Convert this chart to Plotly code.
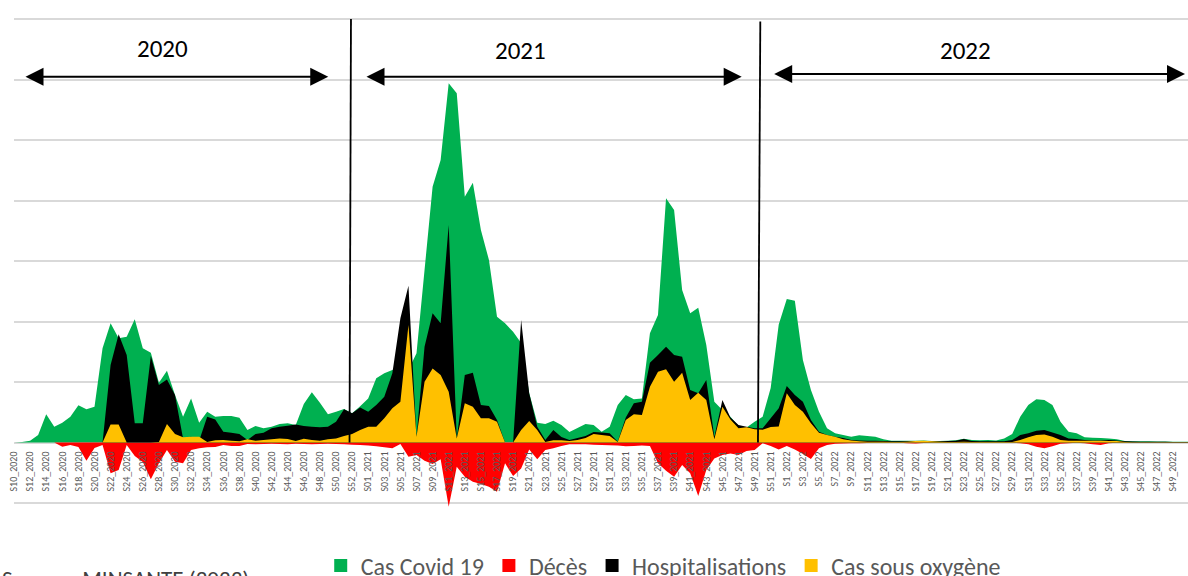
import plotly.graph_objects as go

# Epidemiological weeks (S10_2020 .. S52_2022)
weeks_2020 = [f"S{w:02d}_2020" for w in range(10, 54)]
weeks_2021 = [f"S{w:02d}_2021" for w in range(1, 53)]
weeks_2022 = [f"S{w}_2022" for w in range(1, 53)]
weeks = weeks_2020 + weeks_2021 + weeks_2022

# Weekly counts per indicator (deaths are plotted below the axis)
cas_covid = [
    0, 10, 30, 124, 466, 261, 327, 426, 615, 549, 592, 1557, 1970, 1722, 1749, 2036,
    1557, 1485, 990, 1187, 785, 426, 730, 327, 509, 426, 438, 438, 410, 207, 273, 235,
    261, 306, 317, 289, 636, 830, 658, 466, 509, 554, 483, 600,
    730, 1061, 1144, 1198, 1253, 1198, 1475, 2851, 4229, 4670, 5938, 5772, 4063, 4295,
    3513, 3017, 2080, 1970, 1832, 1645, 818, 327, 306, 360, 290, 174, 240, 306, 290,
    179, 261, 620, 785, 714, 730, 1805, 2108, 4037, 3843, 2521, 2136, 2228, 1612, 675,
    537, 426, 273, 250, 344, 426, 900, 1950,
    2372, 2344, 1364, 868, 509, 235, 152, 124, 96, 119, 107, 96, 53, 30, 30, 30, 30,
    35, 25, 25, 30, 40, 63, 41, 40, 41, 35, 69, 140, 426, 620, 714, 703, 620, 344, 179,
    152, 86, 80, 74, 69, 53, 25, 22, 20, 20, 18, 18, 15, 15, 12, 10,
]
deces = [
    0, 0, 0, 0, 0, 0, -69, -41, -74, -301, -91, -41, -509, -455, -41, -223,
    -322, -608, -344, -124, -317, -344, -124, -96, -79, -74, -41, -58, -58, -25, -30, -25,
    -20, -25, -30, -20, -25, -30, -25, -20, -25, -30, -35, -40,
    -50, -60, -79, -96, -25, -234, -207, -301, -355, -278, -1061, -400, -565, -648,
    -686, -730, -813, -344, -554, -427, -113, -278, -124, -96, -58, -30, -30, -30, -35,
    -40, -45, -50, -60, -55, -50, -58, -344, -466, -565, -372, -509, -884, -455, -262,
    -207, -179, -207, -140, -124, -13, -58, -113,
    -58, -113, -190, -270, -96, -41, -20, -15, -10, -10, -8, -5, -5, -5, -5, -10, -15,
    -8, -5, -5, -5, -5, -5, -5, -3, -3, -3, -3, -5, -10, -30, -70, -96, -60, -20, -10,
    -5, -10, -30, -40, -10, -5, -3, -3, -3, -3, -3, -3, -3, -3, -3, -3,
]
hospitalisations = [
    0, 0, 0, 0, 0, 0, 0, 0, 0, 0, 0, 0, 1281, 1789, 1446, 317,
    317, 1430, 950, 1044, 785, 69, 96, 30, 426, 383, 179, 162, 140, 41, 140, 162,
    235, 261, 278, 300, 273, 261, 251, 261, 344, 549, 483, 580,
    509, 620, 757, 1144, 2053, 2592, 96, 1584, 2136, 1970, 3595, 69, 1116, 1154,
    620, 603, 372, 0, 0, 2025, 813, 260, 41, 207, 90, 41, 74, 107, 174,
    168, 152, 13, 416, 648, 675, 1320, 1446, 1584, 1446, 1419, 868, 813, 1033, 96,
    703, 416, 289, 261, 235, 235, 400, 565,
    934, 785, 675, 372, 179, 124, 96, 74, 41, 35, 30, 30, 25, 20, 20, 20, 20,
    25, 20, 20, 25, 30, 58, 25, 20, 20, 20, 20, 41, 124, 152, 195, 207, 168, 124, 69,
    58, 41, 35, 35, 41, 35, 20, 18, 15, 15, 12, 12, 10, 10, 8, 8,
]
cas_oxygene = [
    0, 0, 0, 0, 0, 0, 0, 0, 0, 0, 0, 0, 300, 300, 0, 0,
    0, 0, 10, 306, 140, 86, 96, 96, 10, 36, 41, 30, 20, 53, 30, 41,
    53, 69, 58, 25, 63, 41, 30, 53, 69, 107, 140, 207,
    261, 261, 400, 565, 675, 1942, 96, 1005, 1226, 1116, 840, 69, 648, 592,
    400, 400, 344, 0, 0, 207, 355, 207, 10, 40, 40, 25, 41, 74, 140,
    124, 107, 10, 372, 466, 455, 922, 1170, 1210, 1005, 1154, 703, 823, 703, 53,
    592, 383, 235, 251, 218, 210, 255, 267,
    813, 620, 509, 317, 162, 124, 96, 53, 33, 20, 15, 15, 12, 10, 10, 15, 25,
    30, 20, 12, 10, 10, 15, 10, 8, 8, 8, 8, 10, 41, 86, 124, 135, 96, 41, 30,
    30, 30, 28, 28, 25, 25, 8, 5, 5, 5, 5, 5, 5, 5, 5, 5,
]

series = [
    ("Cas Covid 19", cas_covid, "#00B050"),
    ("Décès", deces, "#FF0000"),
    ("Hospitalisations", hospitalisations, "#000000"),
    ("Cas sous oxygène", cas_oxygene, "#FFC000"),
]

FONT = "Carlito, Calibri, 'Open Sans', sans-serif"

fig = go.Figure()

# Overlapping (non-stacked) filled areas
for name, vals, color in series:
    fig.add_trace(go.Scatter(
        x=weeks, y=vals, name=name, mode="none",
        fill="tozeroy", fillcolor=color, showlegend=False, hoverinfo="skip",
    ))

# Square legend keys
for name, vals, color in series:
    fig.add_trace(go.Scatter(
        x=[None], y=[None], name=name, mode="markers",
        marker=dict(symbol="square", size=13, color=color),
    ))

# Year separators
for xa, xb, ytop in [(41.86, 41.68, 7000), (92.71, 92.42, 6959)]:
    fig.add_shape(type="line", xref="x", yref="y", x0=xa, y0=ytop, x1=xb, y1=0,
                  line=dict(color="black", width=1.8), layer="above")

# Double-headed period arrows and year labels
for x0, x1, ya, label, xl, yl in [
    (1.24, 39.04, 6047, "2020", 18.5, 6521),
    (43.6, 90.4, 6047, "2021", 62.98, 6488),
    (94.25, 145.47, 6093, "2022", 118.26, 6488),
]:
    fig.add_annotation(
        x=x1, y=ya, ax=x0, ay=ya, xref="x", yref="y", axref="x", ayref="y",
        text="", showarrow=True, arrowside="end+start",
        arrowhead=2, startarrowhead=2, arrowsize=1.8, startarrowsize=1.8,
        arrowwidth=2, arrowcolor="black", standoff=0, startstandoff=0,
    )
    fig.add_annotation(
        x=xl, y=yl, xref="x", yref="y", text=label, showarrow=False,
        font=dict(family=FONT, size=25, color="black"),
    )

# Source line at the foot of the figure
fig.add_annotation(
    x=-14 / 1174, y=-0.09, xref="paper", yref="paper", xanchor="left", yanchor="top",
    text="Source : MINSANTE (2023)", showarrow=False,
    font=dict(family=FONT, size=23, color="#404040"),
)

fig.update_layout(
    width=1188, height=576,
    margin=dict(l=14, r=0, t=18, b=58, autoexpand=False),
    paper_bgcolor="white", plot_bgcolor="white",
    font=dict(family=FONT, color="#595959"),
    legend=dict(
        orientation="h", x=0.553, xanchor="center", y=-0.096, yanchor="middle",
        font=dict(family=FONT, size=24, color="#595959"),
        itemwidth=30, bgcolor="rgba(0,0,0,0)",
    ),
    xaxis=dict(
        type="category", range=[0, 145.84],
        showgrid=False, zeroline=False, showline=False, ticks="",
        tickmode="array", tickvals=weeks[::2], ticktext=weeks[::2],
        tickangle=-90, tickfont=dict(family=FONT, size=10, color="#595959"),
        ticklabelstandoff=6,
        anchor="free", position=0.151,
    ),
    yaxis=dict(
        range=[-1247, 7017], tick0=0, dtick=1000,
        showgrid=True, gridcolor="#D9D9D9", gridwidth=1.5,
        zeroline=False, showline=False, showticklabels=False, ticks="",
    ),
)

fig.write_html("out.html")
